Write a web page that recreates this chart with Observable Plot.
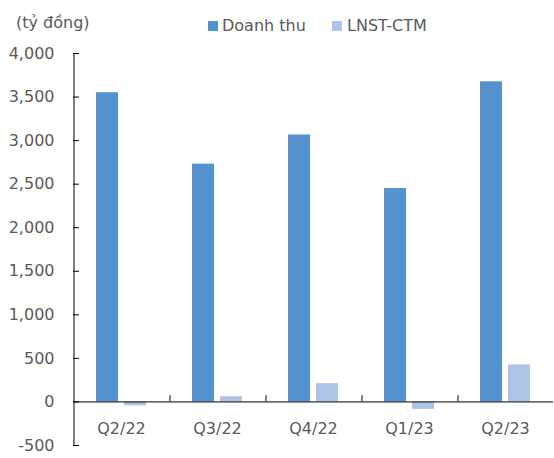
<!DOCTYPE html>
<html>
<head>
<meta charset="utf-8">
<script src="https://cdn.jsdelivr.net/npm/d3@7"></script>
<script src="https://cdn.jsdelivr.net/npm/@observablehq/plot@0.6"></script>
<style>
  html, body { margin: 0; padding: 0; background: #fff; }
  #wrap { width: 554px; height: 458px; position: relative; overflow: hidden; }
  #hdr { position: relative; width: 554px; height: 40px; font-family: 'DejaVu Sans', sans-serif; font-size: 16px; color: #595959; }
  #hdr span { position: absolute; line-height: 16px; white-space: nowrap; }
  #hdr i { position: absolute; width: 10px; height: 10px; }
</style>
</head>
<body>
<div id="wrap">
  <div id="hdr">
    <span style="left:16px;top:14.5px">(tỷ đồng)</span>
    <i id="sw0" style="left:208px;top:21px"></i><span id="lg0" style="left:222px;top:17.5px"></span>
    <i id="sw1" style="left:332px;top:21px"></i><span id="lg1" style="left:347px;top:17.5px"></span>
  </div>
  <div id="chart"></div>
</div>
<script>
const quarters = ["Q2/22", "Q3/22", "Q4/22", "Q1/23", "Q2/23"];
const seriesNames = ["Doanh thu", "LNST-CTM"];
const revenue = [3550, 2730, 3065, 2450, 3675];
const profit = [-45, 60, 210, -85, 425];
const yTicks = [-500, 0, 500, 1000, 1500, 2000, 2500, 3000, 3500, 4000];
const colors = ["#5592CE", "#AEC4E6"];

const rows = quarters.flatMap((q, i) => [
  {quarter: q, series: seriesNames[0], value: revenue[i]},
  {quarter: q, series: seriesNames[1], value: profit[i]}
]);

seriesNames.forEach((s, i) => {
  document.getElementById("lg" + i).textContent = s;
  document.getElementById("sw" + i).style.background = colors[i];
});

const W = 554, H = 418, mL = 73, mR = 1;
const facetW = (W - mL - mR) / quarters.length;

const chart = Plot.plot({
  width: W, height: H,
  marginLeft: mL, marginRight: mR, marginTop: 13, marginBottom: 13,
  style: {fontFamily: "'DejaVu Sans', sans-serif", fontSize: "16px", color: "#595959", background: "white"},
  fx: {domain: quarters, padding: 0, axis: null, label: null},
  x: {domain: seriesNames, paddingInner: 0.232, paddingOuter: 0.83, axis: null},
  y: {domain: [-500, 4000]},
  color: {domain: seriesNames, range: colors},
  marks: [
    Plot.barY(rows, {fx: "quarter", x: "series", y: "value", fill: "series"}),
    Plot.ruleY([0], {stroke: "#000", strokeWidth: 1}),
    Plot.ruleX([0], {x: null, facetAnchor: "left", dx: -facetW / 2 + 0.5, stroke: "#000"}),
    Plot.ruleY(yTicks, {y: d => d, facetAnchor: "left", insetRight: facetW - 6, stroke: "#000"}),
    Plot.ruleX(quarters.slice(0, -1), {fx: d => d, x: null, y1: () => 0, y2: () => 0, insetBottom: 6, dx: facetW / 2 + 0.5, stroke: "#000"}),
    Plot.axisY({ticks: yTicks, tickSize: 0, tickPadding: 19, tickFormat: d => d.toLocaleString("en-US"), fill: "#595959", label: null}),
    Plot.text(quarters, {fx: d => d, y: () => 0, text: d => d, dy: 27, fill: "#595959", fontSize: 16})
  ]
});
document.getElementById("chart").appendChild(chart);
</script>
</body>
</html>
